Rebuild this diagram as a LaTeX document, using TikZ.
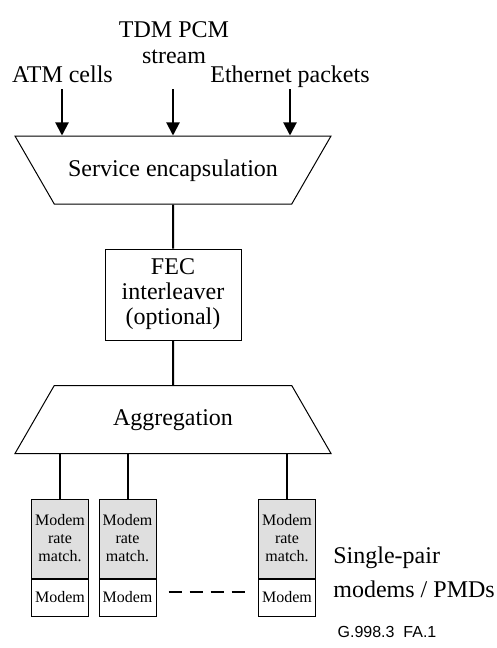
\documentclass[tikz,border=0pt]{standalone}
\usepackage{fontspec}
\setmainfont{Liberation Serif}
\newfontfamily\labelsans{Liberation Sans}
\usetikzlibrary{shapes.geometric,arrows.meta,positioning}

\begin{document}
\begin{tikzpicture}[x=0.5pt,y=-0.5pt,
    lbl/.style={inner sep=0pt,align=center,font=\fontsize{12}{13}\selectfont},
    trap/.style={draw,line width=0.5pt,trapezium,trapezium stretches body,
      minimum width=158pt,inner xsep=2pt,inner ysep=11.5pt,text height=8.5pt,
      text depth=2.5pt,font=\fontsize{12}{13}\selectfont},
    ratebox/.style={draw,line width=0.5pt,fill=gray!25,minimum width=28.5pt,
      minimum height=39.5pt,inner sep=1pt,align=center,font=\fontsize{8}{9}\selectfont},
    modembox/.style={draw,line width=0.5pt,fill=white,minimum width=28.5pt,
      minimum height=18.5pt,inner sep=1pt,font=\fontsize{8}{9}\selectfont},
    wire/.style={line width=1pt},
    feed/.style={line width=1pt,-{Triangle[length=6.5pt,width=6.5pt]}}]
  \useasboundingbox (0,0) rectangle (497,648);

  % inputs
  \node[lbl,anchor=base] (atm) at (62.5,83) {ATM cells};
  \node[lbl] (tdm) at (174,43) {TDM PCM\\stream};
  \node[lbl,anchor=base] (eth) at (290,83) {Ethernet packets};
  \coordinate (inA) at (62,89);
  \coordinate (inT) at (173,89);
  \coordinate (inE) at (290,89);

  % main chain
  \node[trap,trapezium left angle=120,trapezium right angle=120] (enc) at (173,170) {Service encapsulation};
  \node[draw,line width=0.5pt,minimum width=68pt,minimum height=45.5pt,
    inner sep=1pt,align=center,font=\fontsize{12}{12.5}\selectfont] (fec) at (173,294.5) {FEC\\interleaver\\(optional)};
  \node[trap] (agg) at (173,419.5) {Aggregation};

  \foreach \c in {inA,inT,inE}
    \draw[feed] (\c) -- (\c |- enc.north);
  \draw[wire] (enc.south) -- (fec.north);
  \draw[wire] (fec.south) -- (agg.north);

  % modems
  \foreach \n/\x in {1/60,2/127.5,3/287}{
    \node[ratebox] (r\n) at (\x,538.5) {Modem\\rate\\match.};
    \node[modembox,below=0pt of r\n] (m\n) {Modem};
    \draw[wire] (r\n.north) -- (r\n.north |- agg.south);
  }
  \draw[line width=1pt,dash pattern=on 6.5pt off 4pt]
    ([xshift=6pt,yshift=2.75pt]m2.east) -- ([xshift=-6pt,yshift=2.75pt]m3.west);

  \node[lbl,anchor=west,align=left,font=\fontsize{12}{17}\selectfont] (pmd) at (333,572) {Single-pair\\modems / PMDs};
  \node[inner sep=0pt,font=\labelsans\fontsize{8}{9}\selectfont] (fig) at (387,632) {G.998.3\ \ FA.1};
\end{tikzpicture}
\end{document}
